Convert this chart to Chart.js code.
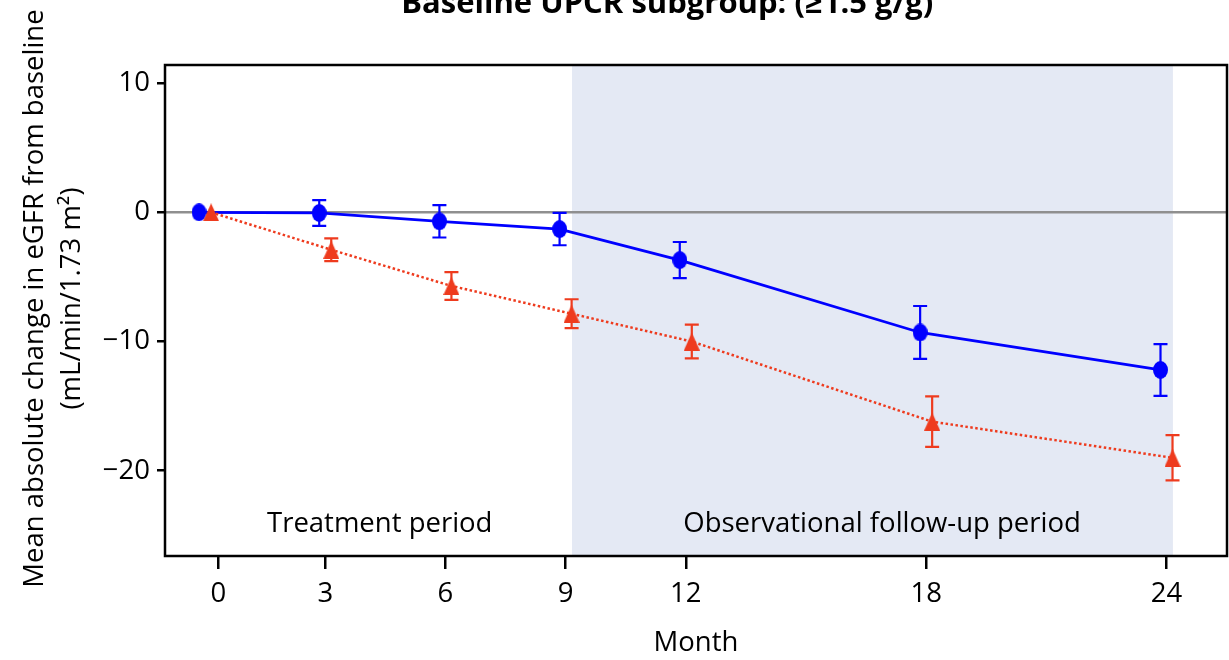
<!DOCTYPE html>
<html>
<head>
<meta charset="utf-8">
<script src="https://cdn.jsdelivr.net/npm/chart.js@4"></script>
<style>
  html, body { margin: 0; padding: 0; background: #fff; }
  .canvas-container { width: 1229px; height: 660px; }
</style>
</head>
<body>
<div class="canvas-container"><canvas id="myChart"></canvas></div>
<script>
// months of the visits
const months = [0, 3, 6, 9, 12, 18, 24];

// blue circles, solid line
const circleMean = [0, -0.05, -0.7, -1.3, -3.7, -9.3, -12.2];
const circleErr  = [0, 1.0, 1.25, 1.25, 1.4, 2.05, 2.0];

// red triangles, dotted line
const triangleMean = [0, -2.9, -5.7, -7.85, -10.0, -16.2, -19.0];
const triangleErr  = [0, 0.88, 1.07, 1.12, 1.3, 1.95, 1.75];

const xTickValues = [0.33, 3, 6, 9, 12, 18, 24];
const xTickLabels = ['0', '3', '6', '9', '12', '18', '24'];
const yTickValues = [10, 0, -10, -20];

const followUp = [9.16, 24.16];
const periodLabels = ['Treatment period', 'Observational follow-up period'];
const periodLabelAt = [4.36, 16.9];
const titleText = 'Baseline UPCR subgroup: (\u22651.5 g/g)';
const yTitle = ['Mean absolute change in eGFR from baseline', '(mL/min/1.73 m\u00b2)'];

const dodge = 0.15;
const FONT = "'Open Sans', sans-serif";
const BLUE = '#0000ff';
const RED = '#ee3b1e';

function marker(shape, color, w, h) {
  const c = document.createElement('canvas');
  c.width = w; c.height = h;
  const g = c.getContext('2d');
  g.fillStyle = color;
  g.beginPath();
  if (shape === 'ellipse') {
    g.ellipse(w / 2, h / 2, w / 2, h / 2, 0, 0, Math.PI * 2);
  } else {
    g.moveTo(w / 2, 0); g.lineTo(w, h); g.lineTo(0, h); g.closePath();
  }
  g.fill();
  return c;
}

const extras = {
  id: 'extras',
  beforeDatasetsDraw(chart) {
    const { ctx, chartArea: a, scales: { x, y } } = chart;
    ctx.save();
    // shaded follow-up period
    ctx.fillStyle = '#e4e9f4';
    const x0 = x.getPixelForValue(followUp[0]);
    const x1 = x.getPixelForValue(followUp[1]);
    ctx.fillRect(x0, a.top, x1 - x0, a.bottom - a.top);
    // zero reference line
    ctx.strokeStyle = '#8f8f8f';
    ctx.lineWidth = 2.5;
    ctx.beginPath();
    ctx.moveTo(a.left, y.getPixelForValue(0));
    ctx.lineTo(a.right, y.getPixelForValue(0));
    ctx.stroke();
    // error bars
    chart.data.datasets.forEach(ds => {
      ctx.strokeStyle = ds.borderColor;
      ctx.lineWidth = 2.2;
      ds.data.forEach((p, j) => {
        const e = ds.errors[j];
        if (!e) return;
        const px = x.getPixelForValue(p.x);
        const yt = y.getPixelForValue(p.y + e);
        const yb = y.getPixelForValue(p.y - e);
        ctx.beginPath();
        ctx.moveTo(px, yt); ctx.lineTo(px, yb);
        ctx.moveTo(px - 7, yt); ctx.lineTo(px + 7, yt);
        ctx.moveTo(px - 7, yb); ctx.lineTo(px + 7, yb);
        ctx.stroke();
      });
    });
    // period labels
    ctx.fillStyle = '#000';
    ctx.font = '27.5px ' + FONT;
    ctx.textAlign = 'center';
    ctx.textBaseline = 'middle';
    periodLabels.forEach((t, i) => {
      ctx.fillText(t, x.getPixelForValue(periodLabelAt[i]), y.getPixelForValue(-24.1));
    });
    ctx.restore();
  },
  afterDraw(chart) {
    const { ctx, chartArea: a } = chart;
    ctx.save();
    ctx.strokeStyle = '#000';
    ctx.lineWidth = 2.5;
    ctx.strokeRect(a.left, a.top, a.right - a.left, a.bottom - a.top);
    ctx.fillStyle = '#000';
    // chart title, clipped by the top edge as in the source figure
    ctx.font = 'bold 31px ' + FONT;
    ctx.textAlign = 'center';
    ctx.textBaseline = 'alphabetic';
    ctx.fillText(titleText, a.left + (a.right - a.left) * 0.473, 13);
    // y axis title
    ctx.font = '27.5px ' + FONT;
    ctx.textBaseline = 'middle';
    ctx.translate(0, (a.top + a.bottom) / 2 - 12);
    ctx.rotate(-Math.PI / 2);
    ctx.fillText(yTitle[0], 0, 35);
    ctx.fillText(yTitle[1], 0, 72);
    ctx.restore();
  }
};

const ctx = document.querySelector('#myChart');

myChart = new Chart(ctx, {
  type: 'line',
  data: {
    datasets: [{
      label: 'triangles',
      data: months.map((m, i) => ({ x: m + dodge, y: triangleMean[i] })),
      errors: triangleErr,
      borderColor: RED,
      backgroundColor: RED,
      borderWidth: 2.5,
      borderDash: [2.5, 2.5],
      pointStyle: marker('triangle', RED, 16, 18),
      order: 0
    }, {
      label: 'circles',
      data: months.map((m, i) => ({ x: m - dodge, y: circleMean[i] })),
      errors: circleErr,
      borderColor: BLUE,
      backgroundColor: BLUE,
      borderWidth: 2.8,
      pointStyle: marker('ellipse', BLUE, 15, 18),
      order: 1
    }]
  },
  options: {
    responsive: true,
    maintainAspectRatio: false,
    animation: false,
    layout: { autoPadding: false, padding: { top: 65, right: 2, left: 0, bottom: 0 } },
    plugins: { legend: { display: false }, tooltip: { enabled: false } },
    scales: {
      x: {
        type: 'linear',
        min: -1.0,
        max: 25.51,
        afterBuildTicks: s => { s.ticks = xTickValues.map(v => ({ value: v })); },
        afterFit: s => { s.height = 104; s.paddingLeft = 0; s.paddingRight = 0; },
        ticks: {
          color: '#000',
          font: { family: FONT, size: 27.5 },
          padding: 9,
          maxRotation: 0,
          callback: (v, i) => xTickLabels[i]
        },
        grid: { drawOnChartArea: false, color: '#000', lineWidth: 2.5, tickLength: 13 },
        border: { display: false },
        title: {
          display: true,
          text: 'Month',
          color: '#000',
          font: { family: FONT, size: 27.5 },
          padding: { top: 6, bottom: 0 }
        }
      },
      y: {
        min: -26.6,
        max: 11.4,
        afterBuildTicks: s => { s.ticks = yTickValues.map(v => ({ value: v })); },
        afterFit: s => { s.width = 165; s.paddingTop = 0; s.paddingBottom = 0; },
        ticks: {
          color: '#000',
          font: { family: FONT, size: 27.5 },
          padding: 7,
          callback: v => (v < 0 ? '\u2212' + Math.abs(v) : String(v))
        },
        grid: { drawOnChartArea: false, color: '#000', lineWidth: 2.5, tickLength: 8 },
        border: { display: false }
      }
    }
  },
  plugins: [extras]
});
</script>
</body>
</html>
